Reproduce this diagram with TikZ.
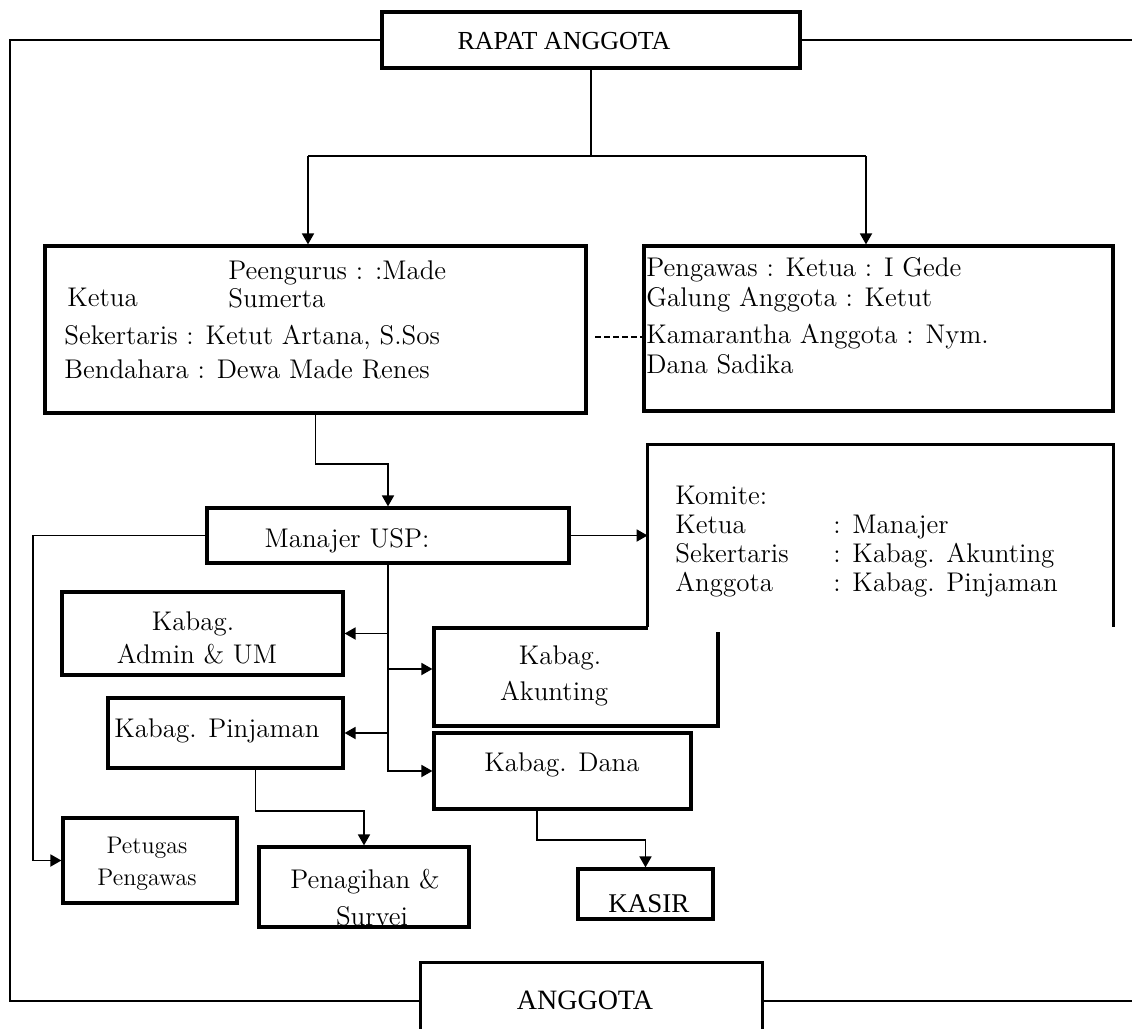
\documentclass[tikz,border=0pt]{standalone}
\usepackage{fontspec}
\newfontfamily\tnr{Liberation Serif}
\usetikzlibrary{arrows.meta}

\begin{document}
\begin{tikzpicture}[x=0.5pt,y=-0.5pt,
  box/.style  = {draw, line width=1.6pt, inner sep=0pt, rectangle},
  lin/.style  = {line width=0.9pt},
  arr/.style  = {line width=0.9pt, -{Triangle[length=5.5pt,width=6pt]}},
  txt/.style  = {inner sep=0pt, anchor=base west, font=\fontsize{13.5}{16}\selectfont},
  ctxt/.style = {inner sep=0pt, anchor=base, font=\fontsize{13.5}{16}\selectfont},
  tnrtxt/.style = {inner sep=0pt, anchor=base, font=\tnr\fontsize{13.5}{16}\selectfont}]
\useasboundingbox (0,0) rectangle (1132,1029);

\coordinate (ftl) at (10,40);
\coordinate (fbl) at (10,1001);
\coordinate (ftr) at (1132,40);
\coordinate (fbr) at (1132,1001);
\coordinate (jl)  at (308,156);
\coordinate (jr)  at (866,156);
\coordinate (dsh) at (595,337);
\coordinate (lbus) at (33,537);

% boxes
\node[box, minimum width=209pt,   minimum height=28pt]   (rapat)     at (591,40)      {};
\node[box, minimum width=270.5pt, minimum height=83.5pt] (pengurus)  at (315.5,329.5) {};
\node[box, minimum width=234.5pt, minimum height=82.5pt] (pengawas)  at (878.5,328.5) {};
\node[box, minimum width=181pt,   minimum height=27.5pt] (manajer)   at (388,535.5)   {};
\node[box, minimum width=140.5pt, minimum height=41.5pt] (admin)     at (202.5,633.5) {};
\node[box, minimum width=142pt,   minimum height=49pt]   (akunting)  at (576,677)     {};
\node[box, minimum width=117.5pt, minimum height=35pt]   (pinjaman)  at (225.5,733)   {};
\node[box, minimum width=128.5pt, minimum height=38pt]   (dana)      at (562.5,771)   {};
\node[box, minimum width=87pt,    minimum height=42.5pt] (petugas)   at (150,860.5)   {};
\node[box, minimum width=67.5pt,  minimum height=25pt]   (kasir)     at (645.5,894)   {};

% komite lies over the corner of akunting, no bottom line
\node[fill=white, inner sep=0pt, minimum width=232.5pt, minimum height=91pt] (komite) at (880.5,536) {};
\fill[white] (komite.south west) rectangle ([yshift=-2.5pt]komite.south east);
\draw[line width=1.6pt] (komite.south west) -- (komite.north west) -- (komite.north east) -- (komite.south east);

\node[inner sep=0pt, minimum width=170.5pt, minimum height=33pt] (anggota) at (591.5,996) {};
\draw[line width=1.6pt] (anggota.south west) -- (anggota.north west) -- (anggota.north east) -- (anggota.south east);

% texts
\node[tnrtxt, font=\tnr\fontsize{13}{15}\selectfont] (trapat) at (564,49) {RAPAT ANGGOTA};

\node[txt] (tketua)  at (67,306)  {Ketua};
\node[txt] (tpeng1)  at (228,279) {Peengurus : :Made};
\node[txt] (tpeng2)  at (228,307) {Sumerta};
\node[txt] (tsek)    at (64,344)  {Sekertaris : Ketut Artana, S.Sos};
\node[txt] (tbend)   at (64,378)  {Bendahara : Dewa Made Renes};

\node[txt] (tpw1) at (646,276) {Pengawas : Ketua : I Gede};
\node[txt] (tpw2) at (646,306) {Galung Anggota : Ketut};
\node[txt] (tpw3) at (646,343) {Kamarantha Anggota : Nym.};
\node[txt] (tpw4) at (646,373) {Dana Sadika};

\node[txt] (tkom)  at (675,504) {Komite:};
\node[txt] (tkom1) at (675,533) {Ketua};
\node[txt] (tkom2) at (675,562) {Sekertaris};
\node[txt] (tkom3) at (675,591) {Anggota};
\node[txt] (tkom4) at (833,533) {: Manajer};
\node[txt] (tkom5) at (833,562) {: Kabag. Akunting};
\node[txt] (tkom6) at (833,591) {: Kabag. Pinjaman};

\node[ctxt] (tman)   at (347,547) {Manajer USP:};
\node[ctxt] (tadm1)  at (193,630) {Kabag.};
\node[ctxt] (tadm2)  at (197,663) {Admin \& UM};
\node[ctxt] (taku1)  at (560,664) {Kabag.};
\node[ctxt] (taku2)  at (554,700) {Akunting};
\node[ctxt] (tpinj)  at (217,737) {Kabag. Pinjaman};
\node[ctxt] (tdana)  at (562,771) {Kabag. Dana};
\node[ctxt, font=\fontsize{12}{14}\selectfont] (tpet1) at (147,853) {Petugas};
\node[ctxt, font=\fontsize{12}{14}\selectfont] (tpet2) at (147,885) {Pengawas};
\node[ctxt] (tpen1)  at (365,888) {Penagihan \&};
\node[ctxt] (tpen2)  at (372,925) {Survei};
\node[box, minimum width=105pt, minimum height=40pt] (penagihan) at (364,887) {};
\node[tnrtxt] (tkasir) at (649,912) {KASIR};
\node[tnrtxt, font=\tnr\fontsize{14}{16}\selectfont] (tanggota) at (585,1009) {ANGGOTA};

% frame lines
\draw[lin] (rapat.west) -- (ftl) -- (fbl) -- (fbl -| anggota.west);
\draw[lin] (rapat.east) -- (ftr);
\draw[lin] (fbr -| anggota.east) -- (fbr);

% connectors
\draw[lin] (rapat.south) -- (rapat.south |- jl);
\draw[lin] (jl) -- (jr);
\draw[arr] (jl) -- (jl |- pengurus.north);
\draw[arr] (jr) -- (jr |- pengawas.north);
\draw[lin, dash pattern=on 3pt off 1.5pt] (dsh) -- (dsh -| pengawas.west);

\draw[arr] (pengurus.south) -- ++(0,49) -| (manajer.north);
\draw[arr] (manajer.east) -- (manajer.east -| komite.west);
\draw[arr] (manajer.west) -- (manajer.west -| lbus) |- (petugas.west);

\coordinate (akin) at ([yshift=4pt]akunting.west);
\draw[arr] (manajer.south) |- (dana.west);
\draw[arr] (manajer.south |- admin.east) -- (admin.east);
\draw[arr] (akin -| manajer.south) -- (akin);
\draw[arr] (manajer.south |- pinjaman.east) -- (pinjaman.east);

\draw[arr] ([xshift=15pt]pinjaman.south) -- ++(0,41) -| (penagihan.north);
\draw[arr] ([xshift=-12.75pt]dana.south) -- ++(0,29) -| (kasir.north);

\end{tikzpicture}
\end{document}
